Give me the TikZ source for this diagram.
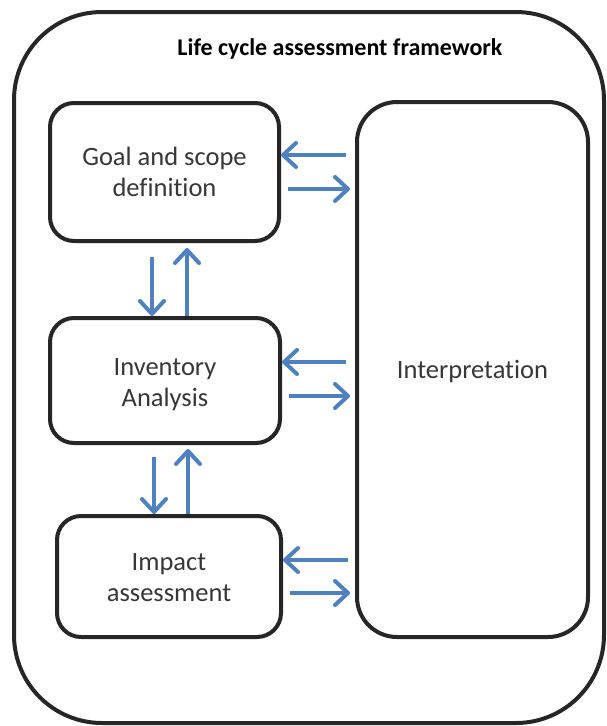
\documentclass[tikz,border=0pt]{standalone}
\usepackage{fontspec}
\setmainfont{Carlito}[Ligatures={NoCommon}]
\usetikzlibrary{arrows.meta}
\definecolor{arrblue}{RGB}{79,129,189}
\definecolor{edgegray}{RGB}{38,38,38}
\definecolor{txtgray}{RGB}{55,55,55}
\tikzset{
  stagebox/.style={draw=edgegray, line width=4pt, rounded corners=24pt, fill=white,
    align=center, text=txtgray, font=\fontsize{26.5}{31}\selectfont, inner sep=0pt},
  stagetext/.style={align=center, text=txtgray, font=\fontsize{26.5}{31}\selectfont, inner sep=0pt},
  arr/.style={draw=arrblue, line width=4pt,
    -{Straight Barb[length=13pt, width=24pt, line cap=round, line join=round]}}
}
\begin{document}
\begin{tikzpicture}[x=1pt, y=-1pt]
\useasboundingbox (0,0) rectangle (607,726);
% outer frame
\node[draw=edgegray, line width=4pt, rounded corners=88pt, minimum width=590pt,
  minimum height=711pt, inner sep=0pt] (frame) at (309,367.5) {};
\node[font=\bfseries\fontsize{24}{29}\selectfont, text=black] (title) at (340,49) {Life cycle assessment framework};
% stages
\node[stagebox, minimum width=229pt, minimum height=138pt] (goal) at (164.5,172) {Goal and scope\\definition};
\node[stagebox, minimum width=230pt, minimum height=125pt] (inv) at (165,380.5) {};
\node[stagetext] (invtext) at (165,385) {Inventory\\Analysis};
\node[stagebox, minimum width=224pt, minimum height=121pt] (imp) at (169,576.5) {};
\node[stagetext] (imptext) at (169,578) {Impact\\assessment};
\node[stagebox, rounded corners=40pt, minimum width=231pt, minimum height=535pt] (interp) at (472.5,369.5) {};
\node[stagetext] (interptext) at (472.5,372) {Interpretation};
% horizontal arrows
\draw[arr] ([xshift=-9pt]interp.west |- 0,155) -- (goal.east |- 0,155);
\draw[arr] ([xshift=7pt]goal.east |- 0,189) -- ([xshift=-5pt]interp.west |- 0,189);
\draw[arr] ([xshift=-9pt]interp.west |- 0,362) -- (inv.east |- 0,362);
\draw[arr] ([xshift=7pt]inv.east |- 0,396) -- ([xshift=-5pt]interp.west |- 0,396);
\draw[arr] ([xshift=-7pt]interp.west |- 0,560) -- (imp.east |- 0,560);
\draw[arr] ([xshift=7pt]imp.east |- 0,593) -- ([xshift=-5pt]interp.west |- 0,593);
% vertical arrows
\draw[arr] (goal.south -| 152,0) ++(0,14) coordinate (g1) (g1) -- (inv.north -| 152,0);
\draw[arr] (inv.north -| 187,0) -- ([yshift=-5pt]goal.south -| 187,0);
\draw[arr] (inv.south -| 154,0) ++(0,12) coordinate (i1) (i1) -- (imp.north -| 154,0);
\draw[arr] (imp.north -| 188,0) -- ([yshift=-4pt]inv.south -| 188,0);
\end{tikzpicture}
\end{document}
